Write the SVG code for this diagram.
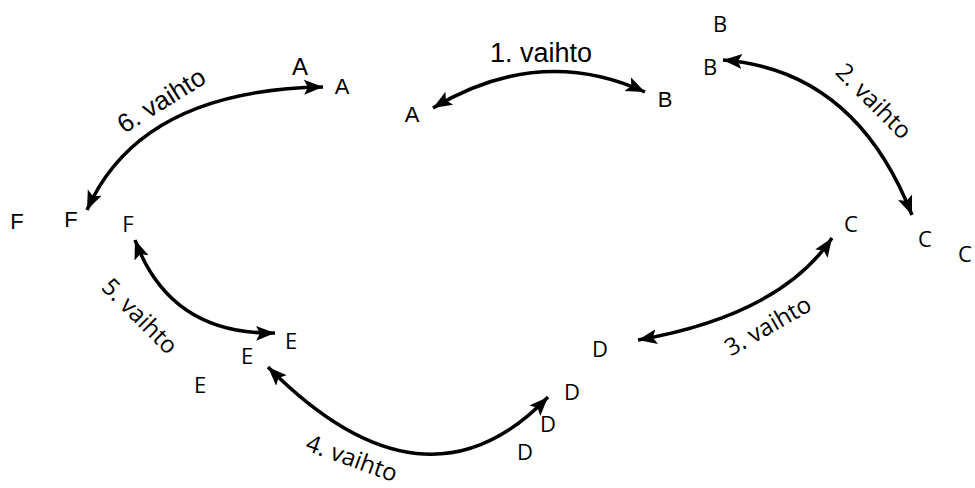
<svg xmlns="http://www.w3.org/2000/svg" width="975" height="488" viewBox="0 0 975 488">
<style>
.a{font-family:"Liberation Sans",Arial,sans-serif;fill:#000}
.c{font-family:"Open Sans","Noto Sans",sans-serif;fill:#000}
.n{font-size:22px;text-anchor:middle}
.l{font-size:24px;text-anchor:middle}
.arr{fill:none;stroke:#000;stroke-width:3.5;marker-start:url(#h);marker-end:url(#h)}
</style>
<defs>
<marker id="h" markerUnits="userSpaceOnUse" markerWidth="20" markerHeight="18" viewBox="0 0 20 18" refX="19" refY="9" orient="auto-start-reverse">
<path d="M0,1.5 L19,9 L0,16.5 L4,9 Z" fill="#000"/>
</marker>
</defs>
<rect width="975" height="488" fill="#fff"/>
<g id="connectors">
<path class="arr" d="M433,108 Q540,44 645,92"/>
<path class="arr" d="M723,60 Q855,70 912,215"/>
<path class="arr" d="M638,340 Q780,315 832,238"/>
<path class="arr" d="M268,367 Q425,525 548,397"/>
<path class="arr" d="M135,240 Q170,335 275,333"/>
<path class="arr" d="M323,87 Q140,90 87,210"/>
</g>
<g id="labels">
<text class="a" x="541" y="62" font-size="27" text-anchor="middle">1. vaihto</text>
<text class="c l" transform="translate(868,107) rotate(45)">2. vaihto</text>
<text class="c l" transform="translate(772,333) rotate(-30)">3. vaihto</text>
<text class="c l" transform="translate(349,466) rotate(20)">4. vaihto</text>
<text class="c l" transform="translate(134,322) rotate(45)">5. vaihto</text>
<text class="a" font-size="26" text-anchor="middle" transform="translate(166,108) rotate(-32)">6. vaihto</text>
</g>
<g id="node-A">
<text class="a" x="300" y="75" font-size="24" text-anchor="middle">A</text>
<text class="a n" x="342" y="94">A</text>
<text class="a n" x="412" y="122">A</text>
</g>
<g id="node-B">
<text class="c n" x="720" y="32">B</text>
<text class="c n" x="710" y="75">B</text>
<text class="a n" x="665" y="107">B</text>
</g>
<g id="node-C">
<text class="c n" x="851" y="232">C</text>
<text class="c n" x="925" y="247">C</text>
<text class="c n" x="965" y="262">C</text>
</g>
<g id="node-D">
<text class="c n" x="600" y="357">D</text>
<text class="c n" x="572" y="400">D</text>
<text class="c n" x="548" y="432">D</text>
<text class="c n" x="525" y="460">D</text>
</g>
<g id="node-E">
<text class="c n" x="291" y="349">E</text>
<text class="c n" x="247" y="364">E</text>
<text class="c n" x="200" y="393">E</text>
</g>
<g id="node-F">
<text class="a n" x="17" y="229">F</text>
<text class="a n" x="71" y="227">F</text>
<text class="c n" x="128" y="232">F</text>
</g>
</svg>
